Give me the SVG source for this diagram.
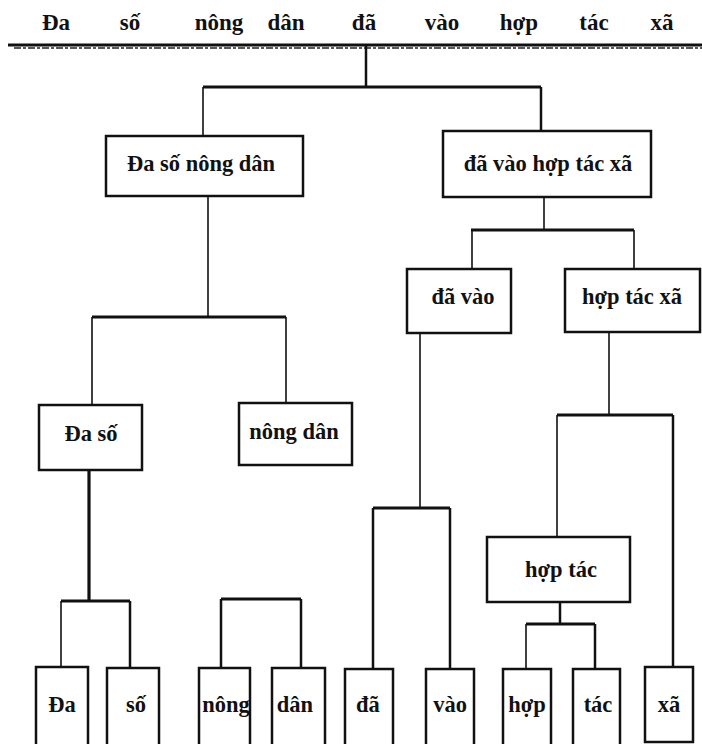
<svg xmlns="http://www.w3.org/2000/svg" width="702" height="744" viewBox="0 0 702 744">
<style>
  .t{font-family:"Liberation Serif","DejaVu Serif",serif;font-weight:bold;font-size:22.5px;fill:#111;text-anchor:middle}
  .top{font-size:23px}
  .box{fill:#fff;stroke:#111;stroke-width:2.5}
  .thin{fill:none;stroke:#111;stroke-width:1.6}
  .mid{fill:none;stroke:#111;stroke-width:2.5}
  .thick{fill:none;stroke:#111;stroke-width:3.2}
</style>
<rect width="702" height="744" fill="#fff"/>
<g id="sentence">
  <text class="t top" x="56" y="30">Đa</text>
  <text class="t top" x="130" y="30">số</text>
  <text class="t top" x="219" y="30">nông</text>
  <text class="t top" x="286" y="30">dân</text>
  <text class="t top" x="364" y="30">đã</text>
  <text class="t top" x="442" y="30">vào</text>
  <text class="t top" x="519" y="30">hợp</text>
  <text class="t top" x="594" y="30">tác</text>
  <text class="t top" x="662" y="30">xã</text>
  <line x1="8" y1="45" x2="702" y2="45" stroke="#111" stroke-width="3"/>
  <line x1="14" y1="48" x2="702" y2="48" stroke="#222" stroke-width="1.4" stroke-dasharray="7 2 3 2"/>
</g>
<g id="connectors">
  <path class="mid" d="M366 45V87"/>
  <path class="thick" d="M203 87H541"/>
  <path class="thin" d="M203 87V136"/>
  <path class="mid" d="M541 87V131"/>
  <path class="thin" d="M208 196V317"/>
  <path class="thick" d="M92 317H286"/>
  <path class="thin" d="M92 317V405M286 317V403"/>
  <path class="thin" d="M544 197V230"/>
  <path class="thick" d="M471 230H634"/>
  <path class="thin" d="M472 230V269M634 230V269"/>
  <path class="thin" d="M420 333V508"/>
  <path class="thick" d="M373 508H450"/>
  <path class="mid" d="M373 508V669M450 508V669"/>
  <path class="thin" d="M609 332V415"/>
  <path class="thick" d="M557 415H673"/>
  <path class="thin" d="M557 415V537"/>
  <path class="mid" d="M673 415V667"/>
  <path class="thick" d="M89 470V601"/>
  <path class="thick" d="M61 601H130"/>
  <path class="thin" d="M61 601V667"/>
  <path class="mid" d="M130 601V668"/>
  <path class="thick" d="M221 599H301"/>
  <path class="mid" d="M221 599V668M301 599V668"/>
  <path class="mid" d="M560 602V624"/>
  <path class="thick" d="M526 624H595"/>
  <path class="thin" d="M526 624V669"/>
  <path class="mid" d="M595 624V669"/>
</g>
<g id="n-dasonongdan"><rect class="box" x="106" y="136" width="197" height="60"/><text class="t" x="201" y="171">Đa số nông dân</text></g>
<g id="n-davaohoptacxa"><rect class="box" x="443" y="131" width="208" height="66"/><text class="t" x="548" y="171">đã vào hợp tác xã</text></g>
<g id="n-daso"><rect class="box" x="39" y="405" width="103" height="65"/><text class="t" x="91" y="441">Đa số</text></g>
<g id="n-nongdan"><rect class="box" x="239" y="403" width="113" height="62"/><text class="t" x="294" y="439">nông dân</text></g>
<g id="n-davao"><rect class="box" x="407" y="269" width="104" height="64"/><text class="t" x="463" y="304">đã vào</text></g>
<g id="n-hoptacxa"><rect class="box" x="565" y="269" width="135" height="63"/><text class="t" x="632" y="304">hợp tác xã</text></g>
<g id="n-hoptac"><rect class="box" x="487" y="537" width="143" height="65"/><text class="t" x="561" y="577">hợp tác</text></g>
<g id="l-da"><rect class="box" x="36" y="667" width="52" height="90"/><text class="t" x="62" y="712">Đa</text></g>
<g id="l-so"><rect class="box" x="107" y="668" width="52" height="90"/><text class="t" x="136" y="712">số</text></g>
<g id="l-nong"><rect class="box" x="199" y="668" width="51" height="90"/><text class="t" x="226" y="712">nông</text></g>
<g id="l-dan"><rect class="box" x="272" y="668" width="53" height="90"/><text class="t" x="295" y="712">dân</text></g>
<g id="l-da2"><rect class="box" x="345" y="669" width="48" height="90"/><text class="t" x="368" y="712">đã</text></g>
<g id="l-vao"><rect class="box" x="426" y="669" width="48" height="90"/><text class="t" x="450" y="712">vào</text></g>
<g id="l-hop"><rect class="box" x="503" y="669" width="48" height="90"/><text class="t" x="527" y="712">hợp</text></g>
<g id="l-tac"><rect class="box" x="573" y="669" width="47" height="90"/><text class="t" x="598" y="712">tác</text></g>
<g id="l-xa"><rect class="box" x="645" y="667" width="48" height="75"/><text class="t" x="669" y="712">xã</text></g>
</svg>
